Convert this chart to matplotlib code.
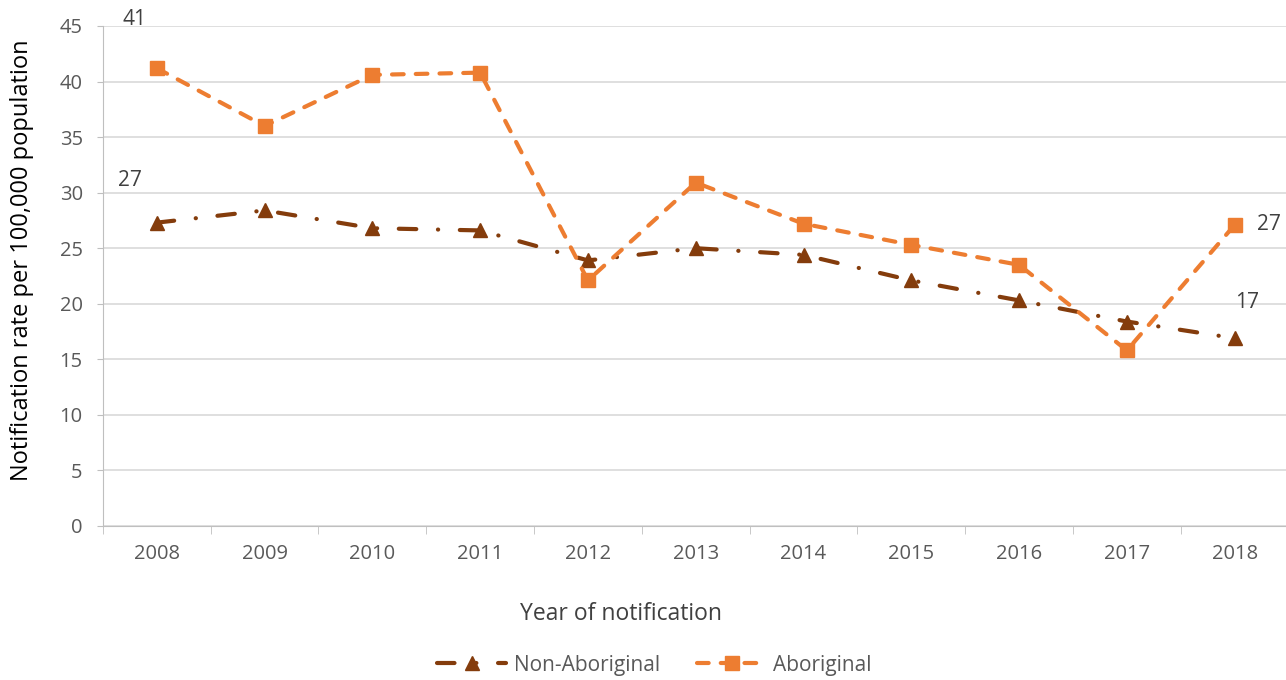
import matplotlib.pyplot as plt
import numpy as np

plt.rcParams['font.family'] = ['Open Sans', 'DejaVu Sans']

years = [2008, 2009, 2010, 2011, 2012, 2013, 2014, 2015, 2016, 2017, 2018]
non_aboriginal = [27.3, 28.4, 26.8, 26.6, 23.9, 25.0, 24.4, 22.1, 20.3, 18.4, 16.9]
aboriginal = [41.2, 36.0, 40.6, 40.8, 22.1, 30.9, 27.2, 25.3, 23.5, 15.8, 27.1]

brown = '#843C0C'
orange = '#ED7D31'
grey = '#595959'

fig = plt.figure(figsize=(12.86, 6.8), dpi=100)
ax = fig.add_axes([0.080, 0.2265, 0.922, 0.7353])
x = np.arange(len(years))

ax.plot(x, non_aboriginal, color=brown, lw=3, marker='^', ms=10,
        dashes=(4.2, 5.2, 0.05, 5.2), dash_capstyle='round', label='Non-Aboriginal')
ax.plot(x, aboriginal, color=orange, lw=3, marker='s', ms=10,
        dashes=(2.8, 2.9), dash_capstyle='round', label='Aboriginal')

# data labels (first and last point of each series)
lab = dict(textcoords='offset points', fontsize=15, color='#404040',
           ha='center', va='center')
ax.annotate(f'{aboriginal[0]:.0f}', (x[0], aboriginal[0]), xytext=(-16, 35), **lab)
ax.annotate(f'{non_aboriginal[0]:.0f}', (x[0], non_aboriginal[0]), xytext=(-19, 30), **lab)
ax.annotate(f'{aboriginal[-1]:.0f}', (x[-1], aboriginal[-1]), xytext=(25, 0), **lab)
ax.annotate(f'{non_aboriginal[-1]:.0f}', (x[-1], non_aboriginal[-1]), xytext=(9, 26), **lab)

ax.set_xlim(-0.5, len(years) - 0.5)
ax.set_ylim(0, 45)
ax.set_yticks(range(0, 46, 5))
ax.set_xticks(x)
ax.set_xticklabels(years)
ax.set_xticks(np.arange(-0.5, len(years), 1), minor=True)
ax.tick_params(axis='x', which='major', length=0, pad=13, labelsize=14.5, labelcolor=grey)
ax.tick_params(axis='x', which='minor', length=6, color='#BFBFBF', direction='out')
ax.tick_params(axis='y', length=4.5, color='#BFBFBF', labelsize=14.5, labelcolor=grey, pad=10)

ax.grid(axis='y', color='#D9D9D9', lw=1.2)
ax.set_axisbelow(True)
for s in ['top', 'right']:
    ax.spines[s].set_visible(False)
ax.spines['left'].set_color('#BFBFBF')
ax.spines['bottom'].set_color('#BFBFBF')

ax.set_xlabel('Year of notification', fontsize=16.5, color='#404040')
ax.set_ylabel('Notification rate per 100,000 population', fontsize=17, color='black')
ax.xaxis.set_label_coords(0.437, -0.152)
ax.yaxis.set_label_coords(-0.058, 0.532)

fig.legend(loc='center', bbox_to_anchor=(0.509, 0.022), ncol=2, frameon=False,
           fontsize=15, labelcolor=grey, handlelength=3.3, handletextpad=0.35,
           columnspacing=1.8)

fig.savefig('out.png', dpi=100)
